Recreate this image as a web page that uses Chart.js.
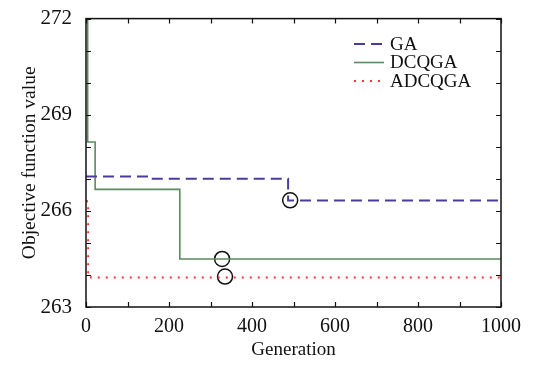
<!DOCTYPE html>
<html>
<head>
<meta charset="utf-8">
<script src="https://cdn.jsdelivr.net/npm/chart.js@4/dist/chart.umd.min.js"></script>
<style>
  html, body { margin: 0; padding: 0; background: #fff; }
  #wrap { width: 536px; height: 365px; }
</style>
</head>
<body>
<div id="wrap"><canvas id="convChart"></canvas></div>
<script>
// values (step curves: y changes at the given generation)
const gaGen = [0, 154, 487, 1000];
const gaVal = [267.07, 267.0, 266.32, 266.32];
const dcqgaGen = [0, 4, 22, 226, 1000];
const dcqgaVal = [272, 268.15, 266.67, 264.5, 264.5];
const adcqgaGen = [0, 5, 12, 1000];
const adcqgaVal = [266.3, 264.05, 263.92, 263.92];
// circled spots
const markGen = [492, 328, 335];
const markVal = [266.33, 264.5, 263.95];

const SERIF = '"Liberation Serif", "DejaVu Serif", serif';
const pts = (xs, ys) => xs.map((x, i) => ({ x, y: ys[i] }));

// frame, inward ticks on all four sides, and the legend inside the plot
const framePlugin = {
  id: 'frame',
  afterDraw(chart) {
    const { ctx, chartArea: a, scales } = chart;
    ctx.save();
    ctx.strokeStyle = '#111';
    ctx.lineWidth = 1.5;
    ctx.strokeRect(a.left, a.top, a.right - a.left, a.bottom - a.top);
    ctx.lineWidth = 1.2;
    ctx.beginPath();
    for (let v = 0; v <= 1000; v += 100) {
      const px = Math.round(scales.x.getPixelForValue(v)) + 0.5;
      ctx.moveTo(px, a.bottom); ctx.lineTo(px, a.bottom - 5);
      ctx.moveTo(px, a.top); ctx.lineTo(px, a.top + 5);
    }
    for (let v = 263; v <= 272; v += 1) {
      const py = Math.round(scales.y.getPixelForValue(v)) + 0.5;
      ctx.moveTo(a.left, py); ctx.lineTo(a.left + 5, py);
      ctx.moveTo(a.right, py); ctx.lineTo(a.right - 5, py);
    }
    ctx.stroke();

    // legend
    ctx.font = '19px ' + SERIF;
    ctx.textBaseline = 'middle';
    ctx.fillStyle = '#111';
    const rows = chart.data.datasets.filter(d => d.label);
    rows.forEach((d, i) => {
      const y = 44 + i * 18.5;
      ctx.strokeStyle = d.borderColor;
      ctx.lineWidth = d.borderWidth;
      ctx.setLineDash(d.borderDash || []);
      ctx.beginPath();
      ctx.moveTo(354, y); ctx.lineTo(384, y);
      ctx.stroke();
      ctx.setLineDash([]);
      ctx.fillText(d.label, 390, y + 1);
    });
    ctx.restore();
  }
};

new Chart(document.getElementById('convChart'), {
  type: 'line',
  data: {
    datasets: [
      {
        label: 'GA',
        data: pts(gaGen, gaVal),
        borderColor: '#4a3c98',
        borderWidth: 2,
        borderDash: [11, 6],
        stepped: true,
        pointRadius: 0,
      },
      {
        label: 'DCQGA',
        data: pts(dcqgaGen, dcqgaVal),
        borderColor: '#5b8a5f',
        borderWidth: 1.6,
        stepped: true,
        pointRadius: 0,
      },
      {
        label: 'ADCQGA',
        data: pts(adcqgaGen, adcqgaVal),
        borderColor: '#ff3030',
        borderWidth: 1.8,
        borderDash: [2, 6],
        stepped: true,
        pointRadius: 0,
      },
      {
        label: '',
        type: 'scatter',
        data: pts(markGen, markVal),
        showLine: false,
        pointStyle: 'circle',
        pointRadius: 7.5,
        pointBorderWidth: 1.5,
        pointBorderColor: '#111',
        pointBackgroundColor: 'rgba(0,0,0,0)',
      },
    ],
  },
  options: {
    animation: false,
    responsive: true,
    maintainAspectRatio: false,
    layout: { padding: { top: 11, right: 35, left: 0, bottom: 0 } },
    plugins: { legend: { display: false }, tooltip: { enabled: false } },
    scales: {
      x: {
        type: 'linear',
        min: 0,
        max: 1000,
        afterFit: (s) => { s.height = 58; },
        grid: { display: false },
        border: { display: false },
        ticks: {
          stepSize: 200,
          padding: 0,
          maxRotation: 0,
          color: '#111',
          font: { family: SERIF, size: 20 },
          callback: (v) => String(v),
        },
        title: {
          display: true,
          text: 'Generation',
          color: '#111',
          padding: { top: 0 },
          font: { family: SERIF, size: 19 },
        },
      },
      y: {
        min: 263,
        max: 272,
        afterFit: (s) => { s.width = 86; },
        grid: { display: false },
        border: { display: false },
        ticks: {
          stepSize: 3,
          padding: 6,
          color: '#111',
          font: { family: SERIF, size: 21 },
        },
        title: {
          display: true,
          text: 'Objective function value',
          color: '#111',
          padding: { top: 18, bottom: 0 },
          font: { family: SERIF, size: 19.5 },
        },
      },
    },
  },
  plugins: [framePlugin],
});
</script>
</body>
</html>
